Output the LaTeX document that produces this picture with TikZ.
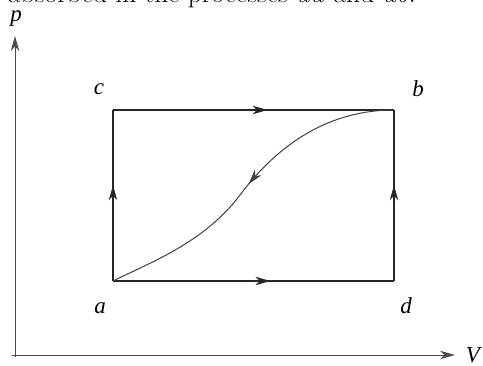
\documentclass[tikz,border=0pt]{standalone}
\usepackage{fontspec}
\setmainfont{Liberation Serif}
\newfontfamily\lmfont{Latin Modern Roman}
\usetikzlibrary{arrows.meta,decorations.markings}
\begin{document}
\begin{tikzpicture}[x=1pt,y=1pt,
  tip/.style={-{Stealth[length=15pt,width=8.5pt,inset=4.5pt]}},
  midtip/.style={postaction={decorate},decoration={markings,
    mark=at position #1 with {\arrow{Stealth[length=15pt,width=8.5pt,inset=4.5pt]}}}},
  side/.style={line width=1.3pt,draw=black!85},
  axis/.style={line width=1pt,draw=black!70},
  lab/.style={font=\fontsize{23}{26}\selectfont\itshape,inner sep=0pt,anchor=base}]
\useasboundingbox (0,0) rectangle (483,365);
\clip (0,0) rectangle (483,365);
\node[anchor=base west,inner sep=0pt,font=\lmfont\fontsize{27.5}{30}\selectfont] (cap) at (8,362) {absorbed in the processes \textit{ad} and \textit{ab}.};
% axes
\coordinate (o1) at (15,8);
\coordinate (ytop) at (15,329);
\coordinate (o2) at (12,10);
\coordinate (xend) at (455,10);
\draw[axis,tip] (o1) -- (ytop);
\draw[axis,tip] (o2) -- (xend);
\node[lab] (p) at (16,343) {p};
\node[lab] (V) at (473,3) {V};
% corners
\coordinate (a) at (113,84);
\coordinate (d) at (394,84);
\coordinate (b) at (394,255);
\coordinate (c) at (113,255);
\coordinate (m) at (240,170);
\node[lab] (la) at (100,52) {a};
\node[lab] (ld) at (406,52) {d};
\node[lab] (lc) at (99,270) {c};
\node[lab] (lb) at (418,268) {b};
% rectangle sides
\draw[side,midtip=0.55] (c) -- (b);
\draw[side,midtip=0.56] (a) -- (d);
\draw[side,midtip=0.56] (a) -- (c);
\draw[side,midtip=0.56] (d) -- (b);
% curve
\draw[line width=1pt,draw=black!75,midtip=0.5] (b) .. controls (330,255) and (279,222) .. (m) .. controls (204,122) and (149,102) .. (a);
\end{tikzpicture}
\end{document}
